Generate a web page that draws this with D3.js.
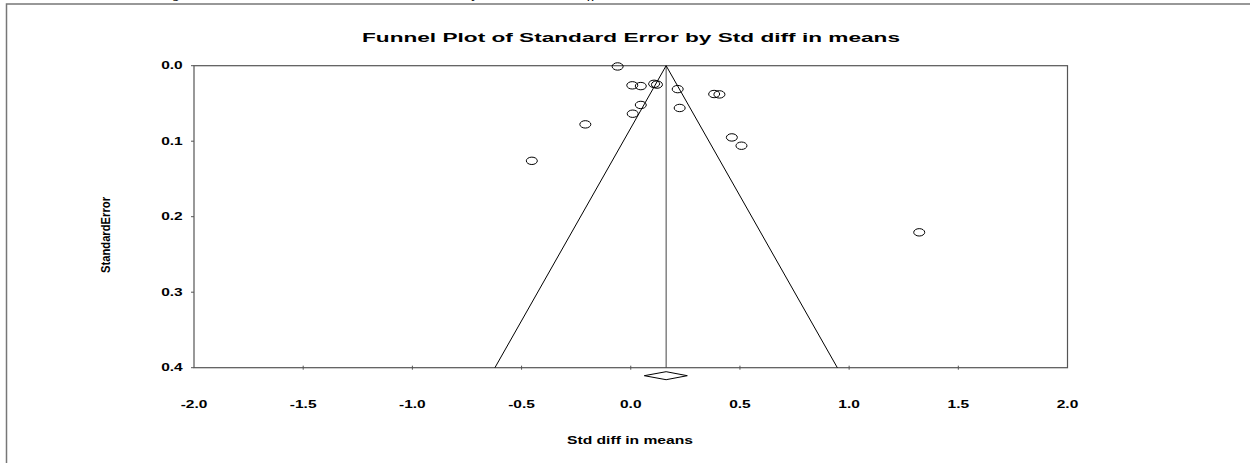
<!DOCTYPE html>
<html>
<head>
<meta charset="utf-8">
<script src="https://cdn.jsdelivr.net/npm/d3@7"></script>
<style>
    body { margin: 0; background: #ffffff; }
    svg { display: block; }
</style>
</head>
<body>
<svg id="main"></svg>
<script>
const width = 1250;
const height = 463;

// study effects (Std diff in means) and standard errors
const effects = [-0.06, 0.007, 0.046, 0.107, 0.120, 0.215, 0.382, 0.406, 0.046, 0.224, 0.009, -0.208, 0.463, 0.507, -0.453, 1.321];
const stdErrors = [0.001, 0.026, 0.027, 0.024, 0.025, 0.031, 0.0375, 0.038, 0.052, 0.056, 0.0636, 0.0777, 0.095, 0.106, 0.126, 0.2207];

// summary estimate and its confidence interval
const summary = [0.162, 0.062, 0.259]; // mean, lower, upper

const xTicks = [-2.0, -1.5, -1.0, -0.5, 0.0, 0.5, 1.0, 1.5, 2.0];
const yTicks = [0.0, 0.1, 0.2, 0.3, 0.4];

const plot = { left: 194, right: 1067.5, top: 65.7, bottom: 367.7 };
const stretch = 1.55; // the source picture is widened horizontally
const font = 'Arial, "Liberation Sans", Helvetica, sans-serif';

const svg = d3.select('svg#main')
    .attr('width', width)
    .attr('height', height);

// caption above the frame, cut off by the page top (only descenders show)
const caption = svg.append('text')
    .attr('y', -2)
    .style('font-family', '"Liberation Serif", "Times New Roman", serif')
    .style('font-style', 'italic')
    .style('font-size', '15px')
    .style('fill', '#000');
caption.append('tspan').attr('x', 160).text('Figure 2. Funnel Plot');
caption.append('tspan').attr('x', 370).text('Standard Error by');
caption.append('tspan').attr('x', 553).text('Std diff in means');

// outer frame
svg.append('rect')
    .attr('x', 6.5)
    .attr('y', 4)
    .attr('width', 1300)
    .attr('height', 600)
    .attr('fill', 'none')
    .attr('stroke', '#777')
    .attr('stroke-width', 1.5);

const x = d3.scaleLinear().domain([-2, 2]).range([plot.left, plot.right]);
const y = d3.scaleLinear().domain([0, 0.4]).range([plot.top, plot.bottom]);

// title
svg.append('text')
    .text('Funnel Plot of Standard Error by Std diff in means')
    .attr('x', 362)
    .attr('y', 42)
    .attr('textLength', 538)
    .attr('lengthAdjust', 'spacingAndGlyphs')
    .style('font-family', font)
    .style('font-weight', 'bold')
    .style('font-size', '13.5px')
    .style('fill', '#000');

// plot box
svg.append('rect')
    .attr('x', plot.left)
    .attr('y', plot.top)
    .attr('width', plot.right - plot.left)
    .attr('height', plot.bottom - plot.top)
    .attr('fill', 'none')
    .attr('stroke', '#555')
    .attr('stroke-width', 1.2);

// y axis ticks + labels
const yAxis = svg.append('g');
yTicks.forEach(t => {
    yAxis.append('line')
        .attr('x1', plot.left - 3)
        .attr('x2', plot.left)
        .attr('y1', y(t))
        .attr('y2', y(t))
        .attr('stroke', '#555');
    yAxis.append('text')
        .text(d3.format('.1f')(t))
        .attr('transform', `translate(182.7 ${y(t) + 3.6}) scale(${stretch} 1)`)
        .attr('text-anchor', 'end')
        .style('font-family', font)
        .style('font-weight', 'bold')
        .style('font-size', '10px')
        .style('fill', '#000');
});

// x axis ticks + labels
const xAxis = svg.append('g');
xTicks.forEach(t => {
    if (t > -2 && t < 2) {
        xAxis.append('line')
            .attr('x1', x(t))
            .attr('x2', x(t))
            .attr('y1', plot.bottom - 2)
            .attr('y2', plot.bottom + 2)
            .attr('stroke', '#555');
    }
    xAxis.append('text')
        .text(d3.format('.1f')(t).replace('−', '-'))
        .attr('transform', `translate(${x(t)} 407.5) scale(${stretch} 1)`)
        .attr('text-anchor', 'middle')
        .style('font-family', font)
        .style('font-weight', 'bold')
        .style('font-size', '10px')
        .style('fill', '#000');
});

// axis titles
svg.append('text')
    .text('Std diff in means')
    .attr('x', 567)
    .attr('y', 444)
    .attr('textLength', 126)
    .attr('lengthAdjust', 'spacingAndGlyphs')
    .style('font-family', font)
    .style('font-weight', 'bold')
    .style('font-size', '10.5px')
    .style('fill', '#000');

svg.append('text')
    .text('StandardError')
    .attr('transform', 'translate(110 273) rotate(-90) scale(1 1.55)')
    .attr('textLength', 76)
    .attr('lengthAdjust', 'spacingAndGlyphs')
    .style('font-family', font)
    .style('font-weight', 'bold')
    .style('font-size', '8px')
    .style('fill', '#000');

// funnel: mean line and 95% limits
const mean = summary[0];
const seMax = 0.4;
const funnel = svg.append('g')
    .attr('stroke', '#000')
    .attr('stroke-width', 1)
    .attr('fill', 'none');

funnel.append('line')
    .attr('x1', x(mean)).attr('x2', x(mean))
    .attr('y1', y(0)).attr('y2', y(seMax))
    .attr('stroke', '#444');

[-1.96, 1.96].forEach(z => {
    funnel.append('line')
        .attr('x1', x(mean)).attr('y1', y(0))
        .attr('x2', x(mean + z * seMax)).attr('y2', y(seMax));
});

// studies
svg.selectAll('.study')
    .data(effects.map((e, i) => ({ e: e, se: stdErrors[i] })))
    .enter()
    .append('ellipse')
    .attr('class', 'study')
    .attr('cx', d => x(d.e))
    .attr('cy', d => y(d.se))
    .attr('rx', 5.5)
    .attr('ry', 3.7)
    .attr('fill', 'none')
    .attr('stroke', '#000')
    .attr('stroke-width', 1);

// summary diamond under the axis
const yd = y(seMax) + 8;
svg.append('polygon')
    .attr('points', [
        [x(summary[1]), yd],
        [x(mean), yd - 4],
        [x(summary[2]), yd],
        [x(mean), yd + 4],
    ].map(p => p.join(',')).join(' '))
    .attr('fill', 'none')
    .attr('stroke', '#000')
    .attr('stroke-width', 1);
</script>
</body>
</html>
